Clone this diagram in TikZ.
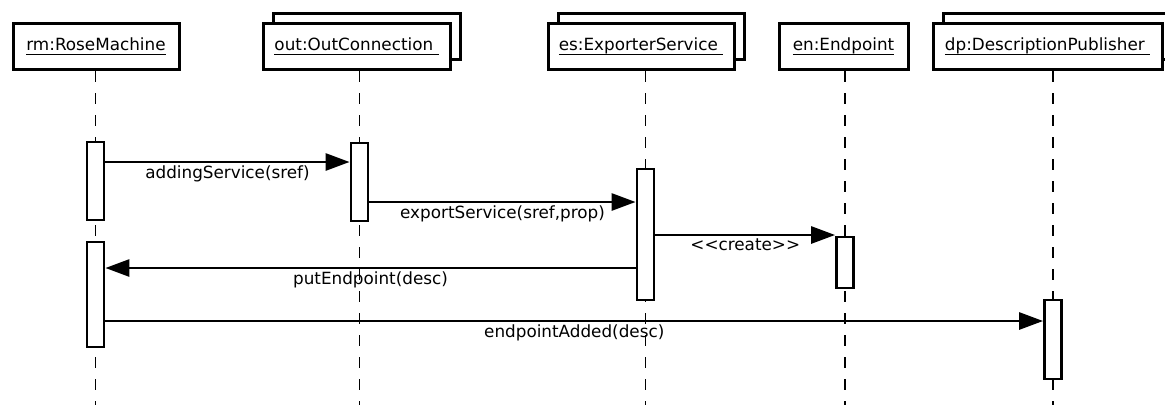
\documentclass[tikz,border=0pt]{standalone}
\usepackage{fontspec}
\setmainfont{DejaVu Sans}
\usetikzlibrary{arrows.meta}
\newcommand\ultext[1]{\setbox0\hbox{#1}\leavevmode\rlap{\rule[-4.5pt]{\wd0}{1.4pt}}\box0}
\tikzset{
  obj/.style={draw, line width=3pt, fill=white, minimum height=46pt, inner sep=0pt,
    font=\fontsize{16.8}{20}\selectfont},
  objback/.style={draw, line width=3pt, fill=white, minimum height=46pt, inner sep=0pt},
  act/.style={draw, line width=2.8pt, fill=white, minimum width=17pt, inner sep=0pt},
  life/.style={line width=1.6pt, dash pattern=on 11pt off 11pt},
  msg/.style={line width=2.8pt, -{Triangle[length=24pt,width=17pt]}},
  lbl/.style={inner sep=0pt, font=\fontsize{16.8}{20}\selectfont, below, yshift=-2pt}
}
\begin{document}
\begin{tikzpicture}[x=1pt,y=-1pt]
\useasboundingbox (0,0) rectangle (1165,405);
\clip (0,0) rectangle (1165,405);
% back boxes
\node[objback, minimum width=187pt] (outb) at (366.5,36) {};
\node[objback, minimum width=186pt] (esb) at (651,36) {};
\node[objback, minimum width=229pt] (dpb) at (1057.5,36) {};
% front boxes
\node[obj, minimum width=166pt] (rm) at (96,46.5) {\ultext{rm:RoseMachine}};
\node[obj, minimum width=187pt] (out) at (356.5,46.5) {\ultext{out:OutConnection\ }};
\node[obj, minimum width=186pt] (es) at (641,46.5) {\ultext{es:ExporterService\ }};
\node[obj, minimum width=129pt] (en) at (843.5,46.5) {\ultext{en:Endpoint}};
\node[obj, minimum width=229pt] (dp) at (1047.5,46.5) {\ultext{dp:DescriptionPublisher\ }};
% lifeline x positions
\coordinate (xrm) at (95.5,0);
\coordinate (xout) at (359.5,0);
\coordinate (xes) at (645.5,0);
\coordinate (xen) at (845,0);
\coordinate (xdp) at (1053,0);
% lifelines
\draw[life] (rm.south -| xrm) -- (xrm |- 0,405);
\draw[life] (out.south -| xout) -- (xout |- 0,405);
\draw[life] (es.south -| xes) -- (xes |- 0,405);
\draw[life] (en.south -| xen) -- (xen |- 0,405);
\draw[life] (dp.south -| xdp) -- (xdp |- 0,405);
% activations
\node[act, minimum height=78pt] (a1) at (95.5,181) {};
\node[act, minimum height=105pt] (a2) at (95.5,294.5) {};
\node[act, minimum height=78pt] (o1) at (359.5,182) {};
\node[act, minimum height=131pt] (e1) at (645.5,234.5) {};
\node[act, minimum height=51pt] (n1) at (845,262.5) {};
\node[act, minimum height=79pt] (d1) at (1053,339.5) {};
% messages
\draw[msg] (a1.east |- 0,162) -- node[lbl] {addingService(sref)} (o1.west |- 0,162);
\draw[msg] (o1.east |- 0,202) -- node[lbl] {exportService(sref,prop)} (e1.west |- 0,202);
\draw[msg] (e1.east |- 0,235) -- node[lbl] {<{}<create>{}>} (n1.west |- 0,235);
\draw[msg] (e1.west |- 0,268) -- node[lbl] {putEndpoint(desc)} (a2.east |- 0,268);
\draw[msg] (a2.east |- 0,321) -- node[lbl] {endpointAdded(desc)} (d1.west |- 0,321);
\end{tikzpicture}
\end{document}
